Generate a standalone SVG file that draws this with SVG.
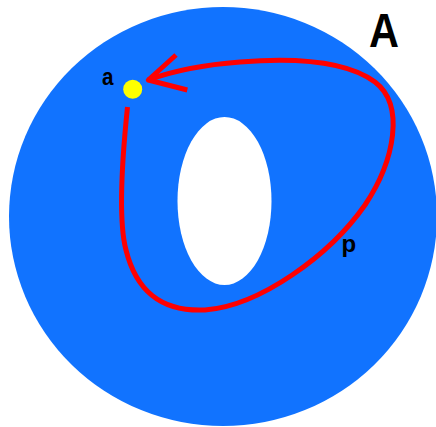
<svg xmlns="http://www.w3.org/2000/svg" width="436" height="427" viewBox="0 0 436 427">
  <style>
    .lbl { font-family: "Liberation Sans", Arial, sans-serif; font-weight: bold; fill: #000000; }
    .loop { fill: none; stroke: #FF0000; stroke-width: 5; stroke-linecap: butt; stroke-linejoin: round; }
  </style>
  <rect width="436" height="427" fill="#FFFFFF"/>
  <g id="region-A">
    <ellipse cx="223" cy="216.5" rx="214" ry="209.5" fill="#1173FF"/>
    <ellipse cx="224.5" cy="201" rx="47" ry="84" fill="#FFFFFF"/>
    <text class="lbl" x="369" y="46.7" font-size="49" textLength="30" lengthAdjust="spacingAndGlyphs">A</text>
  </g>
  <g id="connectors">
    <path class="loop" d="M127.5,107 C122,160 118,220 126,250 C136,290 160,312 205,310 C260,306 330,255 365,205 C395,160 405,105 375,82 C345,60 290,58 240,62 C200,65 170,72 148,80"/>
    <path class="loop" d="M176,55 L148.3,80 L187.3,90"/>
    <text class="lbl" x="341.5" y="251.8" font-size="24">p</text>
  </g>
  <g id="point-a">
    <circle cx="132.7" cy="89.3" r="9.5" fill="#FFFF00"/>
    <text class="lbl" x="102" y="85" font-size="24" textLength="11.5" lengthAdjust="spacingAndGlyphs">a</text>
  </g>
</svg>
